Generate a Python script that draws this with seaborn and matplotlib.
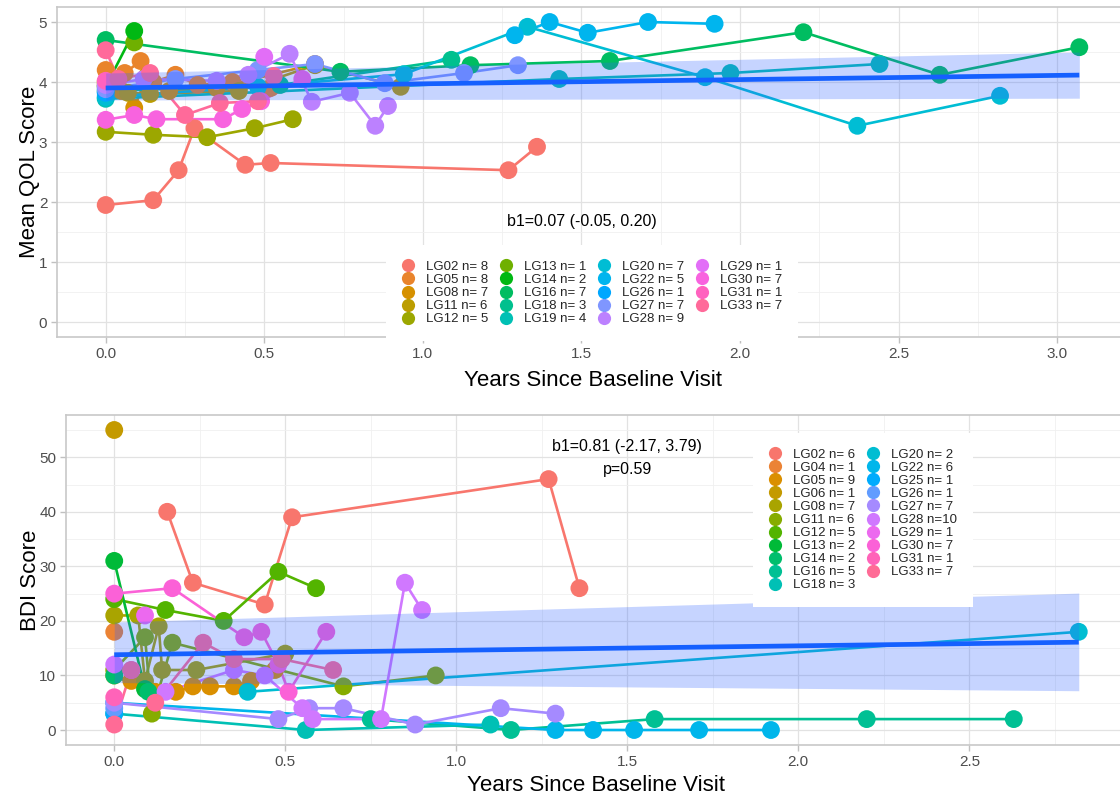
# QOL and BDI trajectories per subject, with fitted trend and CI band
import numpy as np
import pandas as pd
import matplotlib
matplotlib.use("Agg")
import matplotlib.pyplot as plt
import seaborn as sns
from matplotlib.lines import Line2D
from matplotlib.ticker import MultipleLocator

# ---- QOL panel data (years since baseline, mean QOL score) ----
qol_groups = ["LG02", "LG05", "LG08", "LG11", "LG12", "LG13", "LG14", "LG16", "LG18", "LG19",
              "LG20", "LG22", "LG26", "LG27", "LG28", "LG29", "LG30", "LG31", "LG33"]
qol_years = {
    "LG02": [0, 0.15, 0.23, 0.28, 0.44, 0.52, 1.27, 1.36],
    "LG05": [0, 0.06, 0.11, 0.15, 0.22, 0.29, 0.40, 0.52],
    "LG08": [0, 0.05, 0.09, 0.13, 0.20, 0.35, 0.66],
    "LG11": [0, 0.07, 0.14, 0.42, 0.66, 0.93],
    "LG12": [0, 0.15, 0.32, 0.47, 0.59],
    "LG13": [0.09],
    "LG14": [0, 0.09],
    "LG16": [0, 0.74, 1.15, 1.59, 2.20, 2.63, 3.07],
    "LG18": [0, 0.55, 1.09],
    "LG19": [0, 1.43, 1.97, 2.44],
    "LG20": [0, 0.48, 0.94, 1.33, 1.89, 2.37, 2.82],
    "LG22": [1.29, 1.40, 1.52, 1.71, 1.92],
    "LG26": [0],
    "LG27": [0, 0.22, 0.48, 0.66, 0.88, 1.13, 1.30],
    "LG28": [0, 0.12, 0.35, 0.45, 0.58, 0.65, 0.77, 0.85, 0.89],
    "LG29": [0.50],
    "LG30": [0, 0.09, 0.16, 0.37, 0.43, 0.49, 0.62],
    "LG31": [0],
    "LG33": [0, 0.04, 0.14, 0.25, 0.36, 0.48, 0.53],
}
qol_scores = {
    "LG02": [1.95, 2.03, 2.53, 3.23, 2.62, 2.65, 2.53, 2.92],
    "LG05": [4.20, 4.15, 4.35, 4.00, 4.12, 3.95, 4.00, 3.90],
    "LG08": [3.95, 3.85, 3.57, 4.10, 3.85, 3.90, 4.30],
    "LG11": [4.00, 3.82, 3.80, 3.85, 4.28, 3.92],
    "LG12": [3.17, 3.12, 3.08, 3.23, 3.38],
    "LG13": [4.66],
    "LG14": [3.92, 4.85],
    "LG16": [4.70, 4.17, 4.28, 4.35, 4.83, 4.12, 4.58],
    "LG18": [3.85, 3.95, 4.37],
    "LG19": [3.72, 4.05, 4.15, 4.30],
    "LG20": [3.75, 3.92, 4.13, 4.92, 4.08, 3.27, 3.77],
    "LG22": [4.78, 5.00, 4.82, 5.00, 4.97],
    "LG26": [3.82],
    "LG27": [3.88, 4.05, 4.20, 4.30, 3.98, 4.15, 4.28],
    "LG28": [3.95, 4.05, 4.02, 4.12, 4.47, 3.67, 3.82, 3.27, 3.60],
    "LG29": [4.42],
    "LG30": [3.37, 3.45, 3.38, 3.38, 3.55, 3.68, 4.05],
    "LG31": [4.02],
    "LG33": [4.53, 4.05, 4.15, 3.45, 3.65, 3.68, 4.10],
}
qol_fit_x = [0, 3.07]
qol_fit_y = [3.90, 4.115]
qol_fit_lo = [3.70, 3.73]
qol_fit_hi = [4.15, 4.50]
qol_note = "b1=0.07 (-0.05, 0.20)"

# ---- BDI panel data ----
bdi_groups = ["LG02", "LG04", "LG05", "LG06", "LG08", "LG11", "LG12", "LG13", "LG14", "LG16", "LG18",
              "LG20", "LG22", "LG25", "LG26", "LG27", "LG28", "LG29", "LG30", "LG31", "LG33"]
bdi_years = {
    "LG02": [0.155, 0.23, 0.44, 0.52, 1.27, 1.36],
    "LG04": [0],
    "LG05": [0, 0.05, 0.12, 0.18, 0.23, 0.28, 0.35, 0.40, 0.47],
    "LG06": [0],
    "LG08": [0, 0.07, 0.09, 0.13, 0.14, 0.24, 0.50],
    "LG11": [0, 0.09, 0.11, 0.17, 0.67, 0.94],
    "LG12": [0, 0.15, 0.32, 0.48, 0.59],
    "LG13": [0, 0.09],
    "LG14": [0, 0.10],
    "LG16": [0.75, 1.16, 1.58, 2.20, 2.63],
    "LG18": [0, 0.56, 1.10],
    "LG20": [0.39, 2.82],
    "LG22": [0, 1.29, 1.40, 1.52, 1.71, 1.92],
    "LG25": [0],
    "LG26": [0],
    "LG27": [0, 0.48, 0.57, 0.67, 0.88, 1.13, 1.29],
    "LG28": [0, 0.05, 0.15, 0.35, 0.44, 0.55, 0.58, 0.78, 0.85, 0.90],
    "LG29": [0.09],
    "LG30": [0, 0.17, 0.38, 0.43, 0.48, 0.51, 0.62],
    "LG31": [0],
    "LG33": [0, 0.05, 0.12, 0.26, 0.35, 0.49, 0.64],
}
bdi_scores = {
    "LG02": [40, 27, 23, 39, 46, 26],
    "LG04": [18],
    "LG05": [10, 9, 7, 7, 8, 8, 8, 9, 11],
    "LG06": [55],
    "LG08": [21, 21, 9, 19, 11, 11, 14],
    "LG11": [11, 17, 3, 16, 8, 10],
    "LG12": [24, 22, 20, 29, 26],
    "LG13": [31, 7.5],
    "LG14": [10, 7],
    "LG16": [2, 0, 2, 2, 2],
    "LG18": [3, 0, 1],
    "LG20": [7, 18],
    "LG22": [5, 0, 0, 0, 0, 0],
    "LG25": [3],
    "LG26": [4],
    "LG27": [5, 2, 4, 4, 1, 4, 3],
    "LG28": [12, 11, 7, 11, 10, 4, 2, 2, 27, 22],
    "LG29": [21],
    "LG30": [25, 26, 17, 18, 12, 7, 18],
    "LG31": [6],
    "LG33": [1, 11, 5, 16, 13, 13, 11],
}
bdi_fit_x = [0, 2.82]
bdi_fit_y = [13.8, 16.1]
bdi_fit_lo = [8.7, 7.2]
bdi_fit_hi = [19.8, 25.1]
bdi_notes = ["b1=0.81 (-2.17, 3.79)", "p=0.59"]


def hue_colors(n, c=100.0, l=65.0):
    # ggplot2 default hue palette (HCL, polar Luv)
    xn, yn, zn = 95.047, 100.0, 108.883
    un = 4 * xn / (xn + 15 * yn + 3 * zn)
    vn = 9 * yn / (xn + 15 * yn + 3 * zn)
    Y = yn * ((l + 16) / 116) ** 3
    m = np.array([[3.240479, -1.537150, -0.498535],
                  [-0.969256, 1.875992, 0.041556],
                  [0.055648, -0.204043, 1.057311]])
    cols = []
    for h in np.linspace(15, 375, n + 1)[:-1]:
        up = c * np.cos(np.radians(h)) / (13 * l) + un
        vp = c * np.sin(np.radians(h)) / (13 * l) + vn
        X = Y * 9 * up / (4 * vp)
        Z = Y * (12 - 3 * up - 20 * vp) / (4 * vp)
        rgb = m @ np.array([X, Y, Z]) / 100
        rgb = np.where(rgb <= 0.0031308, 12.92 * rgb, 1.055 * np.abs(rgb) ** (1 / 2.4) - 0.055)
        cols.append(tuple(np.clip(rgb, 0, 1)))
    return cols


sns.set_theme(style="white")
plt.rcParams["font.family"] = ["Liberation Sans", "DejaVu Sans"]

fig = plt.figure(figsize=(11.2, 7.99), dpi=100)
W, H = 1120, 799
ax1 = fig.add_axes([57 / W, 1 - 337 / H, 1071 / W, 330 / H])
ax2 = fig.add_axes([66 / W, 1 - 745 / H, 1061 / W, 330 / H])


def draw_panel(ax, groups, years, scores, fx, fy, lo, hi):
    pal = dict(zip(groups, hue_colors(len(groups))))
    rows = [(g, x, y) for g in groups for x, y in zip(years[g], scores[g])]
    df = pd.DataFrame(rows, columns=["subject", "years", "score"])
    sns.lineplot(data=df, x="years", y="score", hue="subject", palette=pal,
                 estimator=None, sort=True, lw=1.9, legend=False, ax=ax, zorder=2)
    sns.scatterplot(data=df, x="years", y="score", hue="subject", palette=pal,
                    s=165, linewidth=0, legend=False, ax=ax, zorder=3)
    ax.fill_between(fx, lo, hi, color="#3366FF", alpha=0.28, lw=0, zorder=4)
    ax.plot(fx, fy, color="#1560FF", lw=3.4, zorder=5, solid_capstyle="butt")

    ax.set_facecolor("white")
    for s in ax.spines.values():
        s.set_visible(True)
        s.set_color("#C8C8C8")
        s.set_linewidth(1.2)
    ax.grid(True, which="major", color="#E2E2E2", lw=0.9)
    ax.grid(True, which="minor", color="#F0F0F0", lw=0.6)
    ax.set_axisbelow(True)
    ax.tick_params(axis="both", which="major", length=4, width=1, color="#C0C0C0",
                   labelsize=11, labelcolor="#4D4D4D", pad=3, bottom=True, left=True)
    ax.tick_params(which="minor", length=0)
    xmax = df["years"].max()
    ax.set_xlim(-0.05 * xmax, 1.05 * xmax)
    labels = [f"{g} n={len(years[g]):>2}" for g in groups]
    handles = [Line2D([], [], marker="o", ls="", markersize=9.5, markeredgewidth=0,
                      markerfacecolor=pal[g], color=pal[g]) for g in groups]
    return handles, labels


h1, l1 = draw_panel(ax1, qol_groups, qol_years, qol_scores, qol_fit_x, qol_fit_y, qol_fit_lo, qol_fit_hi)
ax1.set_ylim(-0.25, 5.25)
ax1.xaxis.set_major_locator(MultipleLocator(0.5))
ax1.xaxis.set_minor_locator(MultipleLocator(0.25))
ax1.yaxis.set_major_locator(MultipleLocator(1))
ax1.yaxis.set_minor_locator(MultipleLocator(0.5))
ax1.set_xticklabels([f"{t:.1f}" for t in ax1.get_xticks()])
ax1.set_xlabel("Years Since Baseline Visit", fontsize=16, color="black")
ax1.set_ylabel("Mean QOL Score", fontsize=16, color="black")
ax1.xaxis.set_label_coords(0.5, -0.1)
ax1.yaxis.set_label_coords(-0.016, 0.5)
ax1.text(1.5, 1.67, qol_note, ha="center", va="center", fontsize=11.5, color="black")

h2, l2 = draw_panel(ax2, bdi_groups, bdi_years, bdi_scores, bdi_fit_x, bdi_fit_y, bdi_fit_lo, bdi_fit_hi)
ymax = max(max(v) for v in bdi_scores.values())
ax2.set_ylim(-0.05 * ymax, 1.05 * ymax)
ax2.xaxis.set_major_locator(MultipleLocator(0.5))
ax2.xaxis.set_minor_locator(MultipleLocator(0.25))
ax2.yaxis.set_major_locator(MultipleLocator(10))
ax2.yaxis.set_minor_locator(MultipleLocator(5))
ax2.set_xticklabels([f"{t:.1f}" for t in ax2.get_xticks()])
ax2.set_xlabel("Years Since Baseline Visit", fontsize=16, color="black")
ax2.set_ylabel("BDI Score", fontsize=16, color="black")
ax2.xaxis.set_label_coords(0.5, -0.09)
ax2.yaxis.set_label_coords(-0.024, 0.5)
ax2.text(1.5, 52.0, bdi_notes[0], ha="center", va="center", fontsize=11.5, color="black")
ax2.text(1.5, 47.8, bdi_notes[1], ha="center", va="center", fontsize=11.5, color="black")

leg_kw = dict(loc="center", frameon=True, fontsize=9.5, handlelength=1.0, handletextpad=0.85,
              columnspacing=0.85, labelspacing=0.06, borderpad=1.2, borderaxespad=0,
              fancybox=False, facecolor="white", edgecolor="none", framealpha=1)
fig.legend(h1, l1, ncol=4, bbox_to_anchor=(592 / W, 1 - 293 / H), **leg_kw)
fig.legend(h2, l2, ncol=2, bbox_to_anchor=(863 / W, 1 - 520 / H), **leg_kw)

fig.savefig("out.png", dpi=100)
